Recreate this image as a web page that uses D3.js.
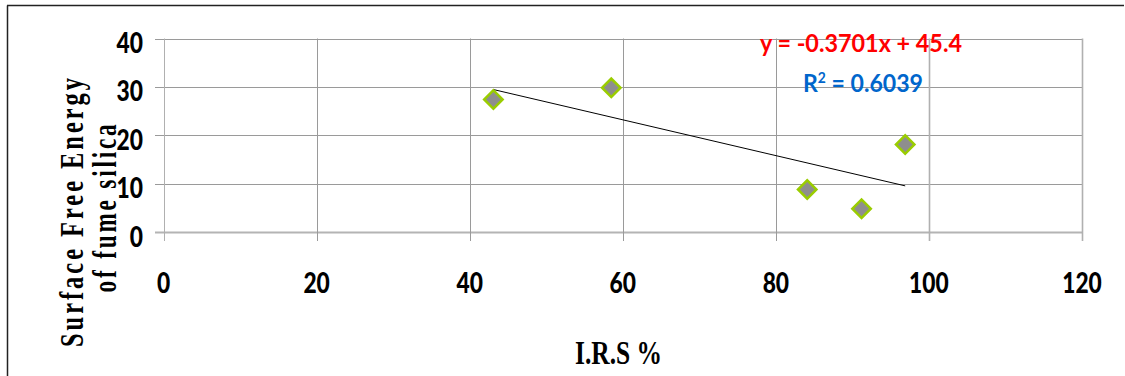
<!DOCTYPE html>
<html>
<head>
<meta charset="utf-8">
<script src="https://cdn.jsdelivr.net/npm/d3@7.9.0/dist/d3.min.js"></script>
<style>
  html, body { margin: 0; padding: 0; background: #fff; }
  svg { display: block; }
</style>
</head>
<body>
<svg id="chart" width="1125" height="376"></svg>
<script>
// data
const irs = [43.1, 58.5, 84.1, 91.2, 96.9];
const energy = [27.4, 29.8, 8.8, 4.8, 18.1];
const xTicks = [0, 20, 40, 60, 80, 100, 120];
const yTicks = [0, 10, 20, 30, 40];
const slope = -0.3701;
const intercept = 45.4;
const eqLabel = 'y = -0.3701x + 45.4';
const r2Value = '0.6039';

const svg = d3.select('#chart');

// outer frame (left + top only visible)
svg.append('line').attr('x1', 7.5).attr('y1', 5.5).attr('x2', 7.5).attr('y2', 376)
  .attr('stroke', '#222').attr('stroke-width', 1.5);
svg.append('line').attr('x1', 7).attr('y1', 5.5).attr('x2', 1124).attr('y2', 5.5)
  .attr('stroke', '#222').attr('stroke-width', 1.5);

let x = d3.scaleLinear().domain([0, 120]).range([163.5, 1082]);
let y = d3.scaleLinear().domain([0, 40]).range([232, 38.5]);

// grid
let grid = svg.append('g');
yTicks.forEach((t) => {
  grid.append('line')
    .attr('x1', 155).attr('x2', x(120))
    .attr('y1', Math.round(y(t)) + 0.5).attr('y2', Math.round(y(t)) + 0.5)
    .attr('stroke', t === 0 ? '#b4b4b4' : '#9a9a9a')
    .attr('stroke-width', t === 0 ? 2 : 1);
});
xTicks.forEach((t) => {
  grid.append('line')
    .attr('x1', Math.round(x(t)) + 0.5).attr('x2', Math.round(x(t)) + 0.5)
    .attr('y1', y(40)).attr('y2', 241)
    .attr('stroke', (t === 0 || t === 100 || t === 120) ? '#b0b0b0' : '#9a9a9a')
    .attr('stroke-width', (t === 100 || t === 120) ? 1.6 : 1);
});

// tick labels (narrow bold)
function narrow(sel, txt, size) {
  sel.text(txt)
    .attr('font-family', 'Lato, "Open Sans", sans-serif')
    .attr('font-weight', 900)
    .attr('font-size', size)
    .attr('fill', '#000')
    .attr('textLength', txt.length * 13.2)
    .attr('lengthAdjust', 'spacingAndGlyphs');
}
yTicks.forEach((t) => {
  let s = String(t);
  let tx = svg.append('text')
    .attr('x', 143 - s.length * 13.2).attr('y', y(t) + 14.5);
  narrow(tx, s, 29);
});
xTicks.forEach((t) => {
  let s = String(t);
  let tx = svg.append('text')
    .attr('x', x(t) - s.length * 6.6).attr('y', 292.5);
  narrow(tx, s, 29);
});

// trend line from the fitted equation over the data range
let [xmin, xmax] = d3.extent(irs);
svg.append('line')
  .attr('x1', x(xmin)).attr('y1', y(slope * xmin + intercept))
  .attr('x2', x(xmax)).attr('y2', y(slope * xmax + intercept))
  .attr('stroke', '#000').attr('stroke-width', 1);

// diamonds
let diamond = d3.symbol().type(d3.symbolSquare).size(170);
irs.forEach((v, i) => {
  svg.append('path')
    .attr('d', diamond())
    .attr('transform', `translate(${x(v)},${y(energy[i])}) rotate(45)`)
    .attr('fill', '#8e8e8e')
    .attr('stroke', '#9acd00')
    .attr('stroke-width', 2.5);
});

// equation + r squared
svg.append('text')
  .attr('x', 760).attr('y', 52)
  .attr('font-family', 'Lato, sans-serif').attr('font-weight', 700)
  .attr('font-size', 25).attr('fill', '#ff0000')
  .attr('textLength', 202).attr('lengthAdjust', 'spacingAndGlyphs')
  .text(eqLabel);

let r2 = svg.append('text')
  .attr('x', 803).attr('y', 92)
  .attr('font-family', 'Lato, sans-serif').attr('font-weight', 700)
  .attr('font-size', 25).attr('fill', '#0066cc')
  .attr('textLength', 120).attr('lengthAdjust', 'spacingAndGlyphs');
r2.append('tspan').text('R');
r2.append('tspan').attr('font-size', 15).attr('dy', -9).text('2');
r2.append('tspan').attr('dy', 9).text(' = ' + r2Value);

// axis titles: tall serif letters squeezed to width, with spacing
function squeezed(txt, cx, cy, width, size, spacing) {
  let g = svg.append('g').attr('transform', `translate(${cx},${cy}) rotate(-90)`);
  let t = g.append('text')
    .attr('text-anchor', 'middle')
    .attr('font-family', '"Liberation Serif", "Times New Roman", serif')
    .attr('font-weight', 700).attr('font-size', size)
    .attr('letter-spacing', spacing)
    .text(txt);
  let w = t.node().getComputedTextLength();
  t.attr('transform', `scale(${width / w},1)`);
}
squeezed('Surface Free Energy', 83, 211, 272, 33, 4);
squeezed('of fume silica', 116, 207, 171, 33, 4);

svg.append('text')
  .attr('x', 575).attr('y', 364)
  .attr('font-family', '"Liberation Serif", "Times New Roman", serif')
  .attr('font-weight', 700).attr('font-size', 33)
  .attr('textLength', 87).attr('lengthAdjust', 'spacingAndGlyphs')
  .text('I.R.S %');
</script>
</body>
</html>
